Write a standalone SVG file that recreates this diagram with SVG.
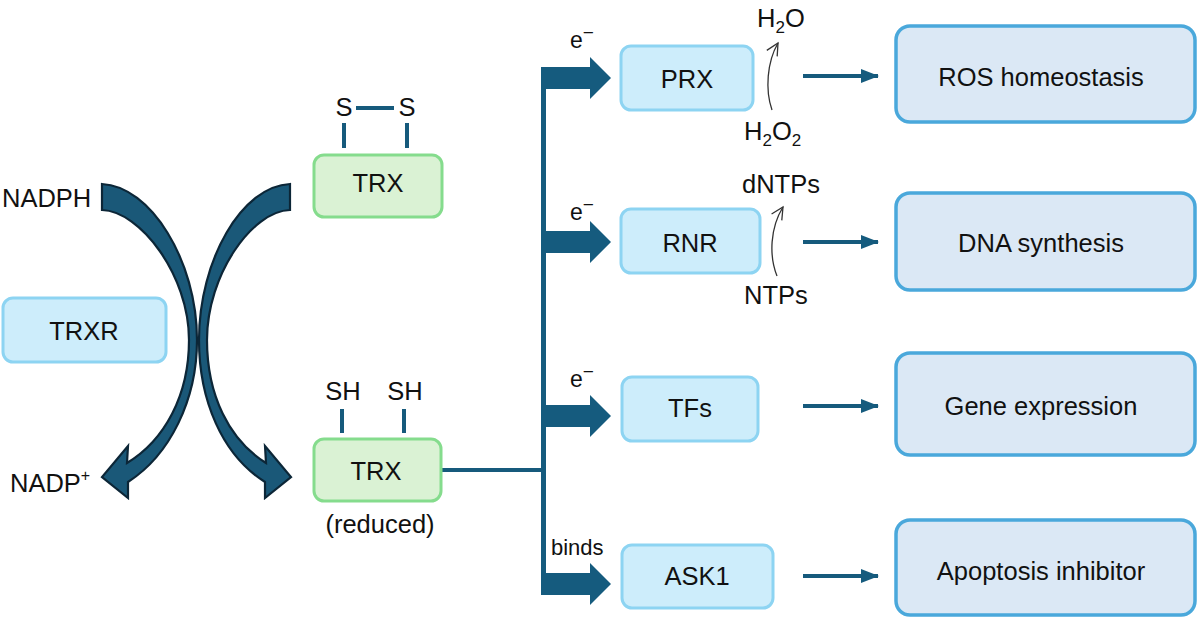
<svg xmlns="http://www.w3.org/2000/svg" width="1200" height="619" viewBox="0 0 1200 619">
<defs>
<style>
text{font-family:"Liberation Sans",Arial,sans-serif;font-size:25.5px;fill:#111;}
.sm{font-size:23px;}
.mid{text-anchor:middle;}
.blue{fill:#cdedfb;stroke:#8dd4f2;stroke-width:3;}
.green{fill:#daf2d4;stroke:#85dc8d;stroke-width:3;}
.out{fill:#dbe8f5;stroke:#4aa8db;stroke-width:3.5;}
.curve{fill:#1a5878;stroke:#0c2637;stroke-width:2.2;stroke-linejoin:miter;}
.bond{stroke:#165a7c;stroke-width:4;fill:none;}
.conn{fill:#155b7e;}
.thin{fill:none;stroke:#333;stroke-width:1.3;}
.link{stroke:#165a7c;stroke-width:4;}
</style>
<marker id="ah" markerWidth="18" markerHeight="14" refX="17" refY="7" orient="auto" markerUnits="userSpaceOnUse">
<path d="M0,0 L18,7 L0,14 Z" fill="#155b7e"/>
</marker>
<marker id="open" markerWidth="16" markerHeight="16" refX="14" refY="8" orient="auto" markerUnits="userSpaceOnUse">
<path d="M2,2 L14,8 L2,14" fill="none" stroke="#333" stroke-width="1.3"/>
</marker>
</defs>
<rect width="1200" height="619" fill="#fff"/>

<g id="connectors">
<path class="curve" d="M102,184 C150,186 197,260 197,340 C197,400 170,455 128,482 L128,498 L102,477 L128,446 L127,463 C165,440 189,395 189,340 C189,275 140,211 102,210 Z"/>
<path class="curve" d="M290,184 C242,186 199,260 199,340 C199,400 222,455 265,482 L265,498 L291,477 L265,446 L266,463 C229,440 207,395 207,340 C207,275 252,211 290,210 Z"/>
<line class="link" x1="441" y1="470" x2="544" y2="470"/>
<path class="conn" d="M541,67 L590,67 L590,57 L611,78 L590,99 L590,89 L546,89 L546,231 L590,231 L590,221 L611,242 L590,263 L590,253 L546,253 L546,405 L590,405 L590,395 L611,416 L590,437 L590,427 L546,427 L546,573 L590,573 L590,563 L611,584 L590,605 L590,595 L541,595 Z"/>
<line class="link" x1="803" y1="76" x2="878" y2="76" marker-end="url(#ah)"/>
<line class="link" x1="803" y1="242" x2="878" y2="242" marker-end="url(#ah)"/>
<line class="link" x1="803" y1="406" x2="878" y2="406" marker-end="url(#ah)"/>
<line class="link" x1="803" y1="576" x2="878" y2="576" marker-end="url(#ah)"/>
<path class="thin" d="M772,110 C765,90 767,62 778,43" marker-end="url(#open)"/>
<path class="thin" d="M777,276 C769,256 770,228 783,207" marker-end="url(#open)"/>
</g>

<g id="NADPH"><text x="2" y="207">NADPH</text></g>
<g id="NADP"><text x="10" y="492">NADP<tspan font-size="16" dy="-11">+</tspan></text></g>

<g id="TRXR">
<rect class="blue" x="3" y="298" width="163" height="64" rx="10"/>
<text class="mid" x="84" y="340">TRXR</text>
</g>

<g id="TRX-oxidized">
<rect class="green" x="314" y="155" width="128" height="62" rx="10"/>
<text class="mid" x="378" y="192">TRX</text>
<text class="mid" x="344" y="116">S</text>
<text class="mid" x="407" y="116">S</text>
<line class="bond" x1="356" y1="108" x2="394" y2="108"/>
<line class="bond" x1="344" y1="123" x2="344" y2="148"/>
<line class="bond" x1="407" y1="123" x2="407" y2="148"/>
</g>

<g id="TRX-reduced">
<rect class="green" x="314" y="439" width="127" height="62" rx="10"/>
<text class="mid" x="376" y="480">TRX</text>
<text class="mid" x="343" y="400">SH</text>
<text class="mid" x="405" y="400">SH</text>
<line class="bond" x1="342" y1="409" x2="342" y2="433"/>
<line class="bond" x1="404" y1="409" x2="404" y2="433"/>
<text class="mid" x="380" y="533">(reduced)</text>
</g>

<g id="labels">
<text class="sm" x="570" y="48">e<tspan font-size="19" dy="-9">−</tspan></text>
<text class="sm" x="570" y="220">e<tspan font-size="19" dy="-9">−</tspan></text>
<text class="sm" x="570" y="387">e<tspan font-size="19" dy="-9">−</tspan></text>
<text x="551" y="555" style="font-size:22px">binds</text>
</g>

<g id="PRX">
<rect class="blue" x="621" y="46" width="132" height="64" rx="10"/>
<text class="mid" x="687" y="88">PRX</text>
</g>
<g id="RNR">
<rect class="blue" x="621" y="209" width="139" height="64" rx="10"/>
<text class="mid" x="690" y="252">RNR</text>
</g>
<g id="TFs">
<rect class="blue" x="622" y="377" width="136" height="64" rx="10"/>
<text class="mid" x="690" y="417">TFs</text>
</g>
<g id="ASK1">
<rect class="blue" x="622" y="545" width="151" height="63" rx="10"/>
<text class="mid" x="697" y="585">ASK1</text>
</g>

<g id="H2O"><text x="757" y="27">H<tspan font-size="17" dy="6">2</tspan><tspan dy="-6">O</tspan></text></g>
<g id="H2O2"><text x="744" y="140">H<tspan font-size="17" dy="6">2</tspan><tspan dy="-6">O</tspan><tspan font-size="17" dy="6">2</tspan></text></g>
<g id="dNTPs"><text x="742" y="193">dNTPs</text></g>
<g id="NTPs"><text x="744" y="304">NTPs</text></g>

<g id="ROS">
<rect class="out" x="896" y="26" width="299" height="96" rx="14"/>
<text class="mid" x="1041" y="86">ROS homeostasis</text>
</g>
<g id="DNA">
<rect class="out" x="896" y="193" width="299" height="97" rx="14"/>
<text class="mid" x="1041" y="252">DNA synthesis</text>
</g>
<g id="Gene">
<rect class="out" x="896" y="353" width="299" height="102" rx="14"/>
<text class="mid" x="1041" y="415">Gene expression</text>
</g>
<g id="Apoptosis">
<rect class="out" x="896" y="520" width="299" height="95" rx="14"/>
<text class="mid" x="1041" y="580">Apoptosis inhibitor</text>
</g>
</svg>
